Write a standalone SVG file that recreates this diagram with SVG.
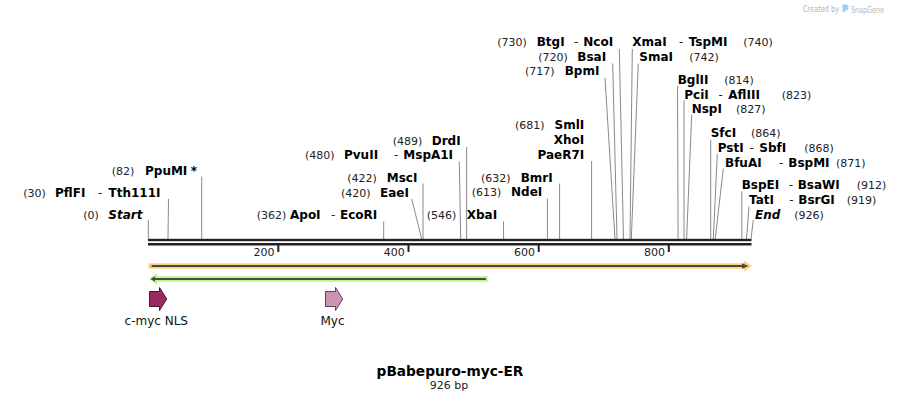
<svg xmlns="http://www.w3.org/2000/svg" width="900" height="402" viewBox="0 0 900 402">
<style>
text{font-family:"DejaVu Sans",Verdana,sans-serif}
.n{font-size:12px;font-weight:bold;fill:#000}
.i{font-style:italic}
.p{font-size:11px;fill:#222}
.h{font-size:12px;fill:#222}
.ln{stroke:#8a8a8a;stroke-width:1;fill:none}
.tk{font-size:11px;fill:#222;text-anchor:end}
.fl{font-size:12px;fill:#111;text-anchor:middle}
.wm{fill:#b4b4b4}
</style>
<rect width="900" height="402" fill="#fff"/>

<g id="watermark">
<text class="wm" x="803" y="12" font-size="8" textLength="36" lengthAdjust="spacingAndGlyphs">Created by</text>
<path d="M842.5,4.5 h3.5 a2.5,2.5 0 0 1 2.5,2.5 v1 a2.5,2.5 0 0 1 -2.5,2.5 h-1 v1.5 h-2.5 z" fill="#9cd0f0"/>
<text class="wm" x="851" y="12.5" font-size="9" textLength="33" lengthAdjust="spacingAndGlyphs">SnapGene</text>
</g>

<g id="connectors">
<line class="ln" x1="148.3" y1="220" x2="148.3" y2="239"/>
<line class="ln" x1="168.5" y1="199" x2="168" y2="239"/>
<line class="ln" x1="201.7" y1="176.7" x2="201.7" y2="239"/>
<line class="ln" x1="383.7" y1="221.5" x2="383.7" y2="239"/>
<line class="ln" x1="411.7" y1="199" x2="421.7" y2="239"/>
<line class="ln" x1="423" y1="183.5" x2="423" y2="239"/>
<line class="ln" x1="459.3" y1="161.5" x2="460.7" y2="239"/>
<line class="ln" x1="466.6" y1="147" x2="466.6" y2="239"/>
<line class="ln" x1="503.5" y1="221.5" x2="503.6" y2="239"/>
<line class="ln" x1="547.4" y1="198.5" x2="547.4" y2="239"/>
<line class="ln" x1="559.6" y1="183.5" x2="559.6" y2="239"/>
<line class="ln" x1="591.6" y1="161" x2="591.6" y2="239"/>
<line class="ln" x1="605" y1="78" x2="615" y2="239"/>
<line class="ln" x1="612.7" y1="63.5" x2="617" y2="239"/>
<line class="ln" x1="619.3" y1="49" x2="623.5" y2="239"/>
<line class="ln" x1="632.3" y1="49" x2="630" y2="239"/>
<line class="ln" x1="638.3" y1="63.5" x2="631.3" y2="239"/>
<line class="ln" x1="677.5" y1="86" x2="678.1" y2="239"/>
<line class="ln" x1="684" y1="100.5" x2="684" y2="239"/>
<line class="ln" x1="691.7" y1="115" x2="686.6" y2="239"/>
<line class="ln" x1="710.7" y1="139.5" x2="710.7" y2="239"/>
<line class="ln" x1="717.3" y1="154" x2="713.3" y2="239"/>
<line class="ln" x1="723.3" y1="168.5" x2="715.2" y2="239"/>
<line class="ln" x1="741.8" y1="191.5" x2="741.9" y2="239"/>
<line class="ln" x1="749" y1="206.5" x2="746.5" y2="239"/>
<line class="ln" x1="753.3" y1="220" x2="751" y2="239"/>
</g>

<g id="ruler">
<rect x="148" y="238.8" width="603.5" height="2.4" fill="#222"/>
<rect x="148" y="243" width="603.5" height="2.5" fill="#222"/>
<rect x="277.3" y="245" width="2" height="7" fill="#222"/>
<rect x="407.5" y="245" width="2" height="7" fill="#222"/>
<rect x="537.7" y="245" width="2" height="7" fill="#222"/>
<rect x="667.8" y="245" width="2" height="7" fill="#222"/>
<text class="tk" x="274.5" y="255.7">200</text>
<text class="tk" x="404.7" y="255.7">400</text>
<text class="tk" x="534.9" y="255.7">600</text>
<text class="tk" x="665" y="255.7">800</text>
</g>

<g id="enz-BtgI"><text class="p" x="497.3" y="46">(730)</text><text class="n" x="536.7" y="46">BtgI</text><text class="h" x="574" y="46">-</text><text class="n" x="583.3" y="46">NcoI</text></g>
<g id="enz-XmaI"><text class="n" x="632.3" y="46">XmaI</text><text class="h" x="679" y="46">-</text><text class="n" x="688.7" y="46">TspMI</text><text class="p" x="743.3" y="46">(740)</text></g>
<g id="enz-BsaI"><text class="p" x="538.3" y="60.5">(720)</text><text class="n" x="577.3" y="60.5">BsaI</text></g>
<g id="enz-SmaI"><text class="n" x="639.3" y="60.5">SmaI</text><text class="p" x="689.3" y="60.5">(742)</text></g>
<g id="enz-BpmI"><text class="p" x="525" y="75">(717)</text><text class="n" x="564.7" y="75">BpmI</text></g>
<g id="enz-BglII"><text class="n" x="677.7" y="84">BglII</text><text class="p" x="724.3" y="84">(814)</text></g>
<g id="enz-PciI"><text class="n" x="684.3" y="98.5">PciI</text><text class="h" x="718.5" y="98.5">-</text><text class="n" x="728.3" y="98.5">AflIII</text><text class="p" x="781.7" y="98.5">(823)</text></g>
<g id="enz-NspI"><text class="n" x="691.7" y="113">NspI</text><text class="p" x="736" y="113">(827)</text></g>
<g id="enz-SmlI"><text class="p" x="515" y="129">(681)</text><text class="n" x="584.3" y="129" text-anchor="end">SmlI</text></g>
<g id="enz-XhoI"><text class="n" x="584.3" y="144" text-anchor="end">XhoI</text></g>
<g id="enz-PaeR7I"><text class="n" x="584.3" y="158.5" text-anchor="end">PaeR7I</text></g>
<g id="enz-SfcI"><text class="n" x="710.7" y="137">SfcI</text><text class="p" x="751" y="137">(864)</text></g>
<g id="enz-DrdI"><text class="p" x="392.7" y="144.5">(489)</text><text class="n" x="431.7" y="144.5">DrdI</text></g>
<g id="enz-PstI"><text class="n" x="717.7" y="151.5">PstI</text><text class="h" x="749.5" y="151.5">-</text><text class="n" x="759.3" y="151.5">SbfI</text><text class="p" x="804.3" y="151.5">(868)</text></g>
<g id="enz-PvuII"><text class="p" x="305" y="159">(480)</text><text class="n" x="344" y="159">PvuII</text><text class="h" x="394" y="159">-</text><text class="n" x="403.3" y="159">MspA1I</text></g>
<g id="enz-BfuAI"><text class="n" x="725" y="166.5">BfuAI</text><text class="h" x="779" y="166.5">-</text><text class="n" x="788.3" y="166.5">BspMI</text><text class="p" x="836" y="166.5">(871)</text></g>
<g id="enz-PpuMI"><text class="p" x="111.7" y="174.5">(82)</text><text class="n" x="145" y="174.5">PpuMI</text><text class="n" x="190.7" y="174.5">*</text></g>
<g id="enz-MscI"><text class="p" x="347.3" y="182">(422)</text><text class="n" x="386.7" y="182">MscI</text></g>
<g id="enz-BmrI"><text class="p" x="481" y="181.5">(632)</text><text class="n" x="520.7" y="181.5">BmrI</text></g>
<g id="enz-BspEI"><text class="n" x="741.7" y="189">BspEI</text><text class="h" x="788.7" y="189">-</text><text class="n" x="797.7" y="189">BsaWI</text><text class="p" x="856.7" y="189">(912)</text></g>
<g id="enz-PflFI"><text class="p" x="23.3" y="196.5">(30)</text><text class="n" x="55" y="196.5">PflFI</text><text class="h" x="98" y="196.5">-</text><text class="n" x="108.5" y="196.5">Tth111I</text></g>
<g id="enz-EaeI"><text class="p" x="341" y="196.5">(420)</text><text class="n" x="380" y="196.5">EaeI</text></g>
<g id="enz-NdeI"><text class="p" x="471.7" y="196">(613)</text><text class="n" x="511" y="196">NdeI</text></g>
<g id="enz-TatI"><text class="n" x="749" y="203.5">TatI</text><text class="h" x="789.3" y="203.5">-</text><text class="n" x="798.3" y="203.5">BsrGI</text><text class="p" x="846.7" y="203.5">(919)</text></g>
<g id="enz-Start"><text class="p" x="83.3" y="218.5">(0)</text><text class="n i" x="108.3" y="218.5">Start</text></g>
<g id="enz-ApoI"><text class="p" x="256.7" y="218.5">(362)</text><text class="n" x="290" y="218.5">ApoI</text><text class="h" x="331" y="218.5">-</text><text class="n" x="340" y="218.5">EcoRI</text></g>
<g id="enz-XbaI"><text class="p" x="426.7" y="218.5">(546)</text><text class="n" x="466.7" y="218.5">XbaI</text></g>
<g id="enz-End"><text class="n i" x="755" y="218.5">End</text><text class="p" x="794.3" y="218.5">(926)</text></g>

<g id="feat-orange">
<path d="M148.5,263.3 H744 V260.6 L752,266 L744,271.4 V268.7 H148.5 Z" fill="#fdd27e"/>
<path d="M151.5,265 H742 V263.2 L748.5,266 L742,268.8 V267 H151.5 Z" fill="#474747"/>
</g>
<g id="feat-green">
<path d="M487.8,276.2 H157 V273.3 L149,279 L157,284.7 V281.8 H487.8 Z" fill="#bff48c"/>
<path d="M486,278 H155 V276.2 L150.5,279 L155,281.8 V280 H486 Z" fill="#4a4a4a"/>
</g>
<g id="feat-cmycNLS">
<path d="M149.5,291.5 H159.5 V287.5 L166.7,299 L159.5,310.5 V306.5 H149.5 Z" fill="#992a60" stroke="#4a1530" stroke-width="1"/>
<text class="fl" x="156.3" y="324.5">c-myc NLS</text>
</g>
<g id="feat-Myc">
<path d="M325.5,291.5 H335.5 V287.5 L342.7,299 L335.5,310.5 V306.5 H325.5 Z" fill="#c995b2" stroke="#5e4050" stroke-width="1"/>
<text class="fl" x="332.5" y="324.5">Myc</text>
</g>

<g id="title">
<text x="450" y="375.7" font-size="13.7" font-weight="bold" text-anchor="middle" fill="#000">pBabepuro-myc-ER</text>
<text x="449" y="388.7" font-size="11" text-anchor="middle" fill="#222">926 bp</text>
</g>
</svg>
